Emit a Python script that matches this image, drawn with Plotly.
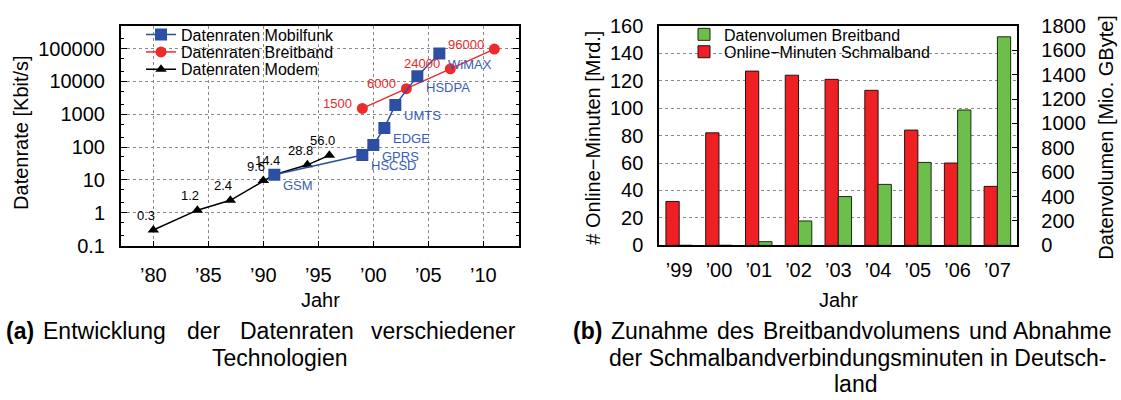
import math
import plotly.graph_objects as go

W, H = 1121, 400
FONT = "Liberation Sans, Arial, Helvetica, sans-serif"


def px(x):
    return x / W


def py(y):
    return 1 - y / H


# ---------------- data: (a) data rates ----------------
modem_years = [1980, 1984, 1987, 1990, 1991, 1994, 1996]
modem_rates = [0.3, 1.2, 2.4, 9.6, 14.4, 28.8, 56.0]
modem_labels = ["0.3", "1.2", "2.4", "9.6", "14.4", "28.8", "56.0"]

mobile_years = [1991, 1999, 2000, 2001, 2002, 2004, 2006]
mobile_rates = [14.4, 57.6, 115.2, 384, 1920, 14400, 70000]
mobile_labels = ["GSM", "HSCSD", "GPRS", "EDGE", "UMTS", "HSDPA", "WiMAX"]

broadband_years = [1999, 2003, 2007, 2011]
broadband_rates = [1500, 6000, 24000, 96000]
broadband_labels = ["1500", "6000", "24000", "96000"]

rate_tickvals = [0.1, 1, 10, 100, 1000, 10000, 100000]
rate_ticktext = ["0.1", "1", "10", "100", "1000", "10000", "100000"]
year_tickvals = [1980, 1985, 1990, 1995, 2000, 2005, 2010]
year_ticktext = ["’80", "’85", "’90", "’95", "’00", "’05", "’10"]

# ---------------- data: (b) broadband vs narrowband ----------------
years_b = ["’99", "’00", "’01", "’02", "’03", "’04", "’05", "’06", "’07"]
online_minutes = [32, 82, 127, 124, 121, 113, 84, 60, 43]          # Mrd.
broadband_volume = [0, 0, 30, 200, 400, 500, 680, 1110, 1710]       # Mio. GByte
minutes_ticks = [0, 20, 40, 60, 80, 100, 120, 140, 160]
volume_ticks = [0, 200, 400, 600, 800, 1000, 1200, 1400, 1600, 1800]

BLUE = "#2c4ea3"
BLUE_TXT = "#3a5cb8"
RED = "#ee2a2a"
RED_TXT = "#e8292b"
BAR_RED = "#ee2024"
BAR_GREEN = "#6cbf4a"

fig = go.Figure()

fig.add_trace(go.Scatter(
    x=modem_years, y=modem_rates, mode="lines+markers",
    name="Datenraten Modem",
    line=dict(color="black", width=1.5),
    marker=dict(symbol="triangle-up", size=10, color="black"),
    xaxis="x", yaxis="y", legend="legend3"))

fig.add_trace(go.Scatter(
    x=broadband_years, y=broadband_rates, mode="lines+markers",
    name="Datenraten Breitband",
    line=dict(color=RED, width=1.5),
    marker=dict(symbol="circle", size=11, color=RED),
    xaxis="x", yaxis="y", legend="legend2"))

fig.add_trace(go.Scatter(
    x=mobile_years, y=mobile_rates, mode="lines+markers",
    name="Datenraten Mobilfunk",
    line=dict(color=BLUE, width=1.5),
    marker=dict(symbol="square", size=12, color=BLUE),
    xaxis="x", yaxis="y", legend="legend"))

fig.add_trace(go.Bar(
    x=years_b, y=online_minutes, name="Online−Minuten Schmalband",
    marker=dict(color=BAR_RED, line=dict(color="#2a1010", width=1)),
    offsetgroup="minutes", xaxis="x2", yaxis="y2", legend="legend5"))

fig.add_trace(go.Bar(
    x=years_b, y=broadband_volume, name="Datenvolumen Breitband",
    marker=dict(color=BAR_GREEN, line=dict(color="#1a2a10", width=1)),
    offsetgroup="volume", xaxis="x2", yaxis="y3", legend="legend4"))

annotations = []

# point labels on the data rate chart
for yr, v, t in zip(modem_years, modem_rates, modem_labels):
    annotations.append(dict(x=yr, y=math.log10(v), xref="x", yref="y", text=t,
                            showarrow=False, xanchor="center", yanchor="middle",
                            xshift=-7, yshift=14.5,
                            font=dict(family=FONT, size=13, color="black")))
for yr, v, t in zip(mobile_years, mobile_rates, mobile_labels):
    annotations.append(dict(x=yr, y=math.log10(v), xref="x", yref="y", text=t,
                            showarrow=False, xanchor="left", yanchor="middle",
                            xshift=7, yshift=-11,
                            font=dict(family=FONT, size=13, color=BLUE_TXT)))
for yr, v, t in zip(broadband_years, broadband_rates, broadband_labels):
    annotations.append(dict(x=yr, y=math.log10(v), xref="x", yref="y", text=t,
                            showarrow=False, xanchor="right", yanchor="middle",
                            xshift=-8, yshift=5,
                            font=dict(family=FONT, size=13, color=RED_TXT)))


def label(text, x, y, size=20, angle=0, anchor="center", color="black"):
    annotations.append(dict(x=px(x), y=py(y), xref="paper", yref="paper", text=text,
                            showarrow=False, xanchor=anchor, yanchor="middle",
                            textangle=angle,
                            font=dict(family=FONT, size=size, color=color)))


# axis titles
label("Datenrate [Kbit/s]", 21, 129, angle=-90)
label("Jahr", 320, 306)
label("# Online−Minuten [Mrd.]", 593, 134, angle=-90)
label("Datenvolumen [Mio. GByte]", 1106, 134, angle=-90)
label("Jahr", 838, 306)

# captions (justified lines, hanging indent after the label)
CAP = 23
L1, L2, L3 = 339, 367, 395
label("<b>(a)</b>", 4, L1, size=CAP, anchor="left")
label("Entwicklung", 41, L1, size=CAP, anchor="left")
label("der", 185, L1, size=CAP, anchor="left")
label("Datenraten", 238, L1, size=CAP, anchor="left")
label("verschiedener", 518, L1, size=CAP, anchor="right")
label("Technologien", 280, L2, size=CAP)

label("<b>(b)</b>", 571, L1, size=CAP, anchor="left")
label("Zunahme", 609, L1, size=CAP, anchor="left")
label("des", 715, L1, size=CAP, anchor="left")
label("Breitbandvolumens", 761, L1, size=CAP, anchor="left")
label("und", 967, L1, size=CAP, anchor="left")
label("Abnahme", 1113, L1, size=CAP, anchor="right")
label("der Schmalbandverbindungsminuten in Deutsch-", 607, L2, size=CAP,
      anchor="left")
label("land", 855, L3, size=CAP)

GRID = dict(showgrid=True, gridcolor="#8a8a8a", gridwidth=1, griddash="dot")
LINE = dict(showline=True, linecolor="black", linewidth=2)
TICKFONT = dict(family=FONT, size=20, color="black")


def legend_at(x, y):
    return dict(x=px(x), y=py(y), xanchor="left", yanchor="middle",
                bgcolor="rgba(0,0,0,0)", borderwidth=0,
                font=dict(family=FONT, size=16, color="black"))


fig.update_layout(
    width=W, height=H,
    margin=dict(l=0, r=0, t=0, b=0),
    paper_bgcolor="white", plot_bgcolor="white",
    font=dict(family=FONT, size=16, color="black"),
    barmode="group", bargap=1/3, bargroupgap=0,
    showlegend=True,
    legend=legend_at(141, 25),
    legend2=legend_at(141, 43.4),
    legend3=legend_at(141, 61.7),
    legend4=legend_at(684, 24.8),
    legend5=legend_at(684, 43.2),
    xaxis=dict(domain=[px(121), px(519)], range=[1977.06, 2013.24],
               tickmode="array", tickvals=year_tickvals, ticktext=year_ticktext,
               ticks="inside", ticklen=5, tickcolor="black", mirror=True,
               zeroline=False, anchor="y", tickfont=TICKFONT,
               ticklabelstandoff=10, **GRID, **LINE),
    yaxis=dict(domain=[py(248.3), py(15.7)], type="log", range=[-1, 5.69],
               tickmode="array", tickvals=rate_tickvals, ticktext=rate_ticktext,
               ticks="inside", ticklen=6, tickcolor="black", mirror="ticks",
               minor=dict(ticks="inside", ticklen=3, tickcolor="black",
                          dtick="D2", showgrid=False),
               anchor="x", tickfont=TICKFONT, ticklabelstandoff=10,
               **GRID, **LINE),
    xaxis2=dict(domain=[px(659.3), px(1017.3)], type="category",
                range=[-0.5, 8.5], showgrid=False, ticks="", mirror=True,
                anchor="y2", tickfont=TICKFONT, ticklabelstandoff=6, **LINE),
    yaxis2=dict(domain=[py(248), py(15.7)], range=[0, 160],
                tickmode="array", tickvals=minutes_ticks,
                ticks="", mirror=True, zeroline=False, anchor="x2",
                tickfont=TICKFONT, ticklabelstandoff=10, **GRID, **LINE),
    yaxis3=dict(range=[0, 1800], overlaying="y2", side="right", anchor="x2",
                tickmode="array", tickvals=volume_ticks,
                ticks="inside", ticklen=5, tickcolor="black",
                showgrid=False, zeroline=False, tickfont=TICKFONT,
                ticklabelstandoff=18, **LINE),
    annotations=annotations,
)

fig.write_html("out.html")
